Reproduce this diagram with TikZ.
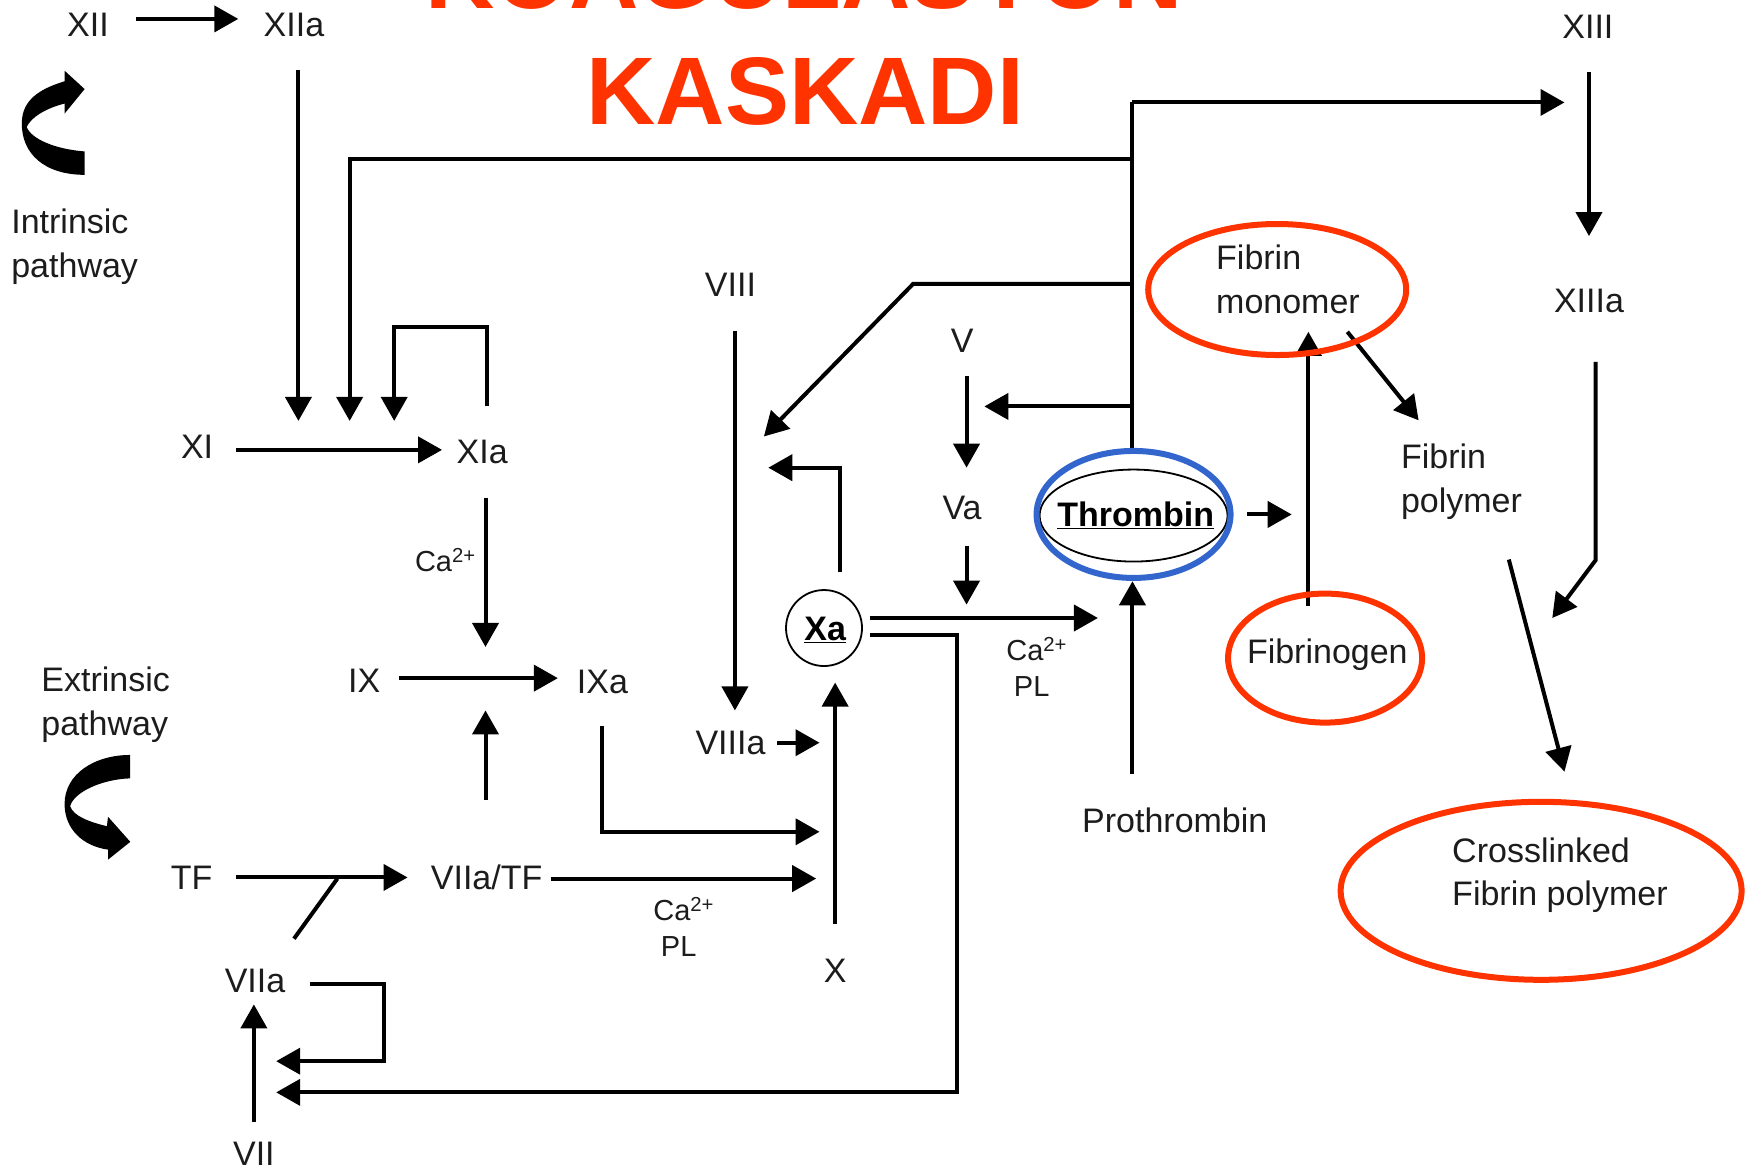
\documentclass[tikz,border=0pt]{standalone}
\usepackage{fontspec}
\setmainfont{Liberation Sans}
\usetikzlibrary{arrows.meta,shapes.geometric}
\definecolor{ringred}{HTML}{FF3300}
\definecolor{ringblue}{HTML}{3366CC}
\definecolor{inkgrey}{HTML}{1C1C1C}
\tikzset{
  lab/.style={text=inkgrey,font=\fontsize{34}{43.6}\selectfont,inner sep=0pt},
  sm/.style={text=inkgrey,font=\fontsize{29}{36}\selectfont,inner sep=0pt,align=center},
  captxt/.style={lab,align=left,anchor=west},
  ttl/.style={text=ringred,font=\fontsize{96}{96}\selectfont\bfseries,inner sep=0pt,anchor=base},
  ln/.style={draw=black,line width=4pt,line join=miter},
  arr/.style={ln,-{Triangle[length=24pt,width=26pt]}},
  ring/.style={ellipse,draw=ringred,line width=6pt,inner sep=0pt},
  boldtxt/.style={text=black,font=\fontsize{34}{40}\selectfont\bfseries,inner sep=0pt},
}
\begin{document}
\begin{tikzpicture}[x=1.1135pt,y=-1.1135pt]
\useasboundingbox (0,0) rectangle (1568,1050.75);
% title (its first line runs off the top of the page)
\node[ttl] (T1) at (722,8) {KOAGULASYON};
\node[ttl] (T2) at (723,112) {KASKADI};
% labels
\node[lab] (XII) at (79,22) {XII};
\node[lab] (XIIa) at (264,22) {XIIa};
\node[lab] (XIII) at (1426,24) {XIII};
\node[lab] (XIIIa) at (1427,270) {XIIIa};
\node[captxt] (Intr) at (10,221.5) {Intrinsic\\pathway};
\node[lab] (VIII) at (656,256) {VIII};
\node[lab] (V) at (864,306) {V};
\node[lab] (XI) at (177,401) {XI};
\node[lab] (XIa) at (433,406) {XIa};
\node[lab] (Va) at (864,456) {Va};
\node[sm] (Ca1) at (400,503) {Ca\textsuperscript{2+}};
\node[lab] (IX) at (327,611) {IX};
\node[lab] (IXa) at (541,612) {IXa};
\node[captxt] (Extr) at (37,633) {Extrinsic\\pathway};
\node[lab] (VIIIa) at (656,667) {VIIIa};
\node[lab] (TF) at (172,788) {TF};
\node[lab] (VF) at (437,788) {VIIa/TF};
\node[sm] (Ca2) at (614,832) {Ca\textsuperscript{2+}\\PL\kern10pt};
\node[lab] (X) at (750,872) {X};
\node[lab] (VIIa) at (229,881) {VIIa};
\node[lab] (VII) at (228,1036) {VII};
\node[lab] (Pro) at (1055,737) {Prothrombin};
\node[sm] (Ca3) at (931,599) {Ca\textsuperscript{2+}\\PL\kern10pt};
\node[captxt] (FP) at (1258,432.5) {Fibrin\\polymer};
\coordinate (FMt) at (1092,251);
\coordinate (CLt) at (1304,786);
% junction points and free ends
\coordinate (jTop) at (1017,92);
\coordinate (jLeft) at (1017,143);
\coordinate (jVIII) at (1017,255);
\coordinate (jV) at (1017,365);
\coordinate (in1) at (268,378);
\coordinate (in2) at (314,378);
\coordinate (in3) at (354,378);
\coordinate (cL) at (314,143);
\coordinate (loopA) at (437,294);
\coordinate (loopB) at (354,294);
\coordinate (ixIn) at (436,581);
\coordinate (ixUp) at (436,638);
\coordinate (ixaA) at (541,747);
\coordinate (ixaB) at (736,747);
\coordinate (viiiaB) at (736,667);
\coordinate (vfB) at (733,789);
\coordinate (tfJ) at (303,789);
\coordinate (xaA) at (754,420);
\coordinate (xaB) at (690,420);
\coordinate (vA) at (820,255);
\coordinate (vB) at (686,392);
\coordinate (vaB) at (868,543);
\coordinate (xaR) at (986,555);
\coordinate (xaD1) at (859,570);
\coordinate (xaD2) at (859,981);
\coordinate (xaD3) at (248,981);
\coordinate (sA) at (345,884);
\coordinate (sB) at (345,953);
\coordinate (sC) at (248,953);
\coordinate (thrB) at (1160,462);
\coordinate (xiiiA) at (1433,503);
\coordinate (xiiiB) at (1394,555);
% circled nodes
\node[boldtxt] (Thr) at (1020,463) {\underline{Thrombin}};
\node[ellipse,draw=black,line width=1.8pt,minimum width=188pt,minimum height=92pt] (ThrIn) at (1018,463) {};
\node[circle,draw=black,line width=1.8pt,minimum size=76pt,inner sep=0pt] (XaC) at (740,564) {};
\node[boldtxt] (Xa) at (741,566) {\underline{Xa}};
\node[captxt] (FMl) at (FMt) {Fibrin\\monomer};
\node[lab] (Fgl) at (1192,588) {Fibrinogen};
\node[captxt] (CLl) at (CLt) {Crosslinked\\Fibrin polymer};
% connectors
\draw[ln] (jTop) -- ([shift={(-1,-57)}]ThrIn.center);
\draw[arr] ([shift={(43,-5)}]XII.center) -- ([shift={(-50,-5)}]XIIa.center);
\draw[arr] ([shift={(4,41)}]XIIa.center) -- (in1);
\draw[arr] (jLeft) -- (cL) -- (in2);
\draw[arr] ([shift={(4,-41)}]XIa.center) -- (loopA) -- (loopB) -- (in3);
\draw[arr] ([shift={(35,3)}]XI.center) -- ([shift={(-36,-2)}]XIa.center);
\draw[arr] ([shift={(3,41)}]XIa.center) -- (ixIn);
\draw[arr] ([shift={(31,-2)}]IX.center) -- ([shift={(-40,-3)}]IXa.center);
\draw[arr] ([shift={(-1,-70)}]VF.center) -- (ixUp);
\draw[arr] ([shift={(0,40)}]IXa.center) -- (ixaA) -- (ixaB);
\draw[arr] ([shift={(4,41)}]VIII.center) -- ([shift={(4,-29)}]VIIIa.center);
\draw[arr] ([shift={(42,0)}]VIIIa.center) -- (viiiaB);
\draw[arr] ([shift={(58,1)}]VF.center) -- (vfB);
\draw[arr] ([shift={(40,0)}]TF.center) -- ([shift={(-71,0)}]VF.center);
\draw[ln] ([shift={(35,-38)}]VIIa.center) -- (tfJ);
\draw[arr] ([shift={(0,-42)}]X.center) -- ([shift={(10,49)}]XaC.center);
\draw[arr] ([shift={(14,-50)}]XaC.center) -- (xaA) -- (xaB);
\draw[arr] (jVIII) -- (vA) -- (vB);
\draw[arr] (jV) -- ([shift={(20,59)}]V.center);
\draw[arr] ([shift={(4,32)}]V.center) -- ([shift={(4,-36)}]Va.center);
\draw[arr] ([shift={(4,34)}]Va.center) -- (vaB);
\draw[arr] ([shift={(41,-9)}]XaC.center) -- (xaR);
\draw[arr] ([shift={(41,6)}]XaC.center) -- (xaD1) -- (xaD2) -- (xaD3);
\draw[arr] ([shift={(49,3)}]VIIa.center) -- (sA) -- (sB) -- (sC);
\draw[arr] ([shift={(0,-28)}]VII.center) -- ([shift={(-1,21)}]VIIa.center);
\draw[arr] ([shift={(-38,-42)}]Pro.center) -- ([shift={(-1,59)}]ThrIn.center);
\draw[arr] ([shift={(102,-1)}]ThrIn.center) -- (thrB);
\draw[arr] ([shift={(-17,-44)}]Fgl.center) -- ([shift={(83,47)}]FMl.west);
\draw[arr] ([shift={(118,47)}]FMl.west) -- ([shift={(16,-55)}]FP.west);
\draw[arr] ([shift={(97,70)}]FP.west) -- ([shift={(101,-93)}]CLl.west);
\draw[arr] (jTop) -- ([shift={(-21,68)}]XIII.center);
\draw[arr] ([shift={(1,41)}]XIII.center) -- ([shift={(0,-58)}]XIIIa.center);
\draw[arr] ([shift={(6,55)}]XIIIa.center) -- (xiiiA) -- (xiiiB);
% rings, over the connectors
\node[ellipse,draw=ringblue,line width=6pt,minimum width=194pt,minimum height=127pt] (ThrOut) at (1018,462) {};
\node[ring,minimum width=258pt,minimum height=131pt] (FM) at (1147,260) {};
\node[ring,minimum width=194pt,minimum height=129pt] (Fg) at (1190,591) {};
\node[ring,minimum width=401pt,minimum height=178pt] (CL) at (1384,800) {};
% thick curved pathway arrows
\fill[black] (76,80) -- (58,63.5) -- (58,73) .. controls (35,80) and (20,90) .. (19.6,110)
  .. controls (19,138) and (40,157) .. (76,157) -- (76,136) .. controls (50,134) and (28,125) .. (24,114)
  .. controls (28,105) and (42,97) .. (58,93) -- (58,102) -- cycle;
\fill[black] (116.8,678) .. controls (85,678) and (58,695) .. (58,722)
  .. controls (58,745) and (75,760) .. (97,763) -- (97,772) -- (117,756) -- (97,733.5) -- (96,742)
  .. controls (80,738) and (66,733) .. (63,724) .. controls (66,712) and (90,700) .. (116.8,699) -- cycle;
\end{tikzpicture}
\end{document}
